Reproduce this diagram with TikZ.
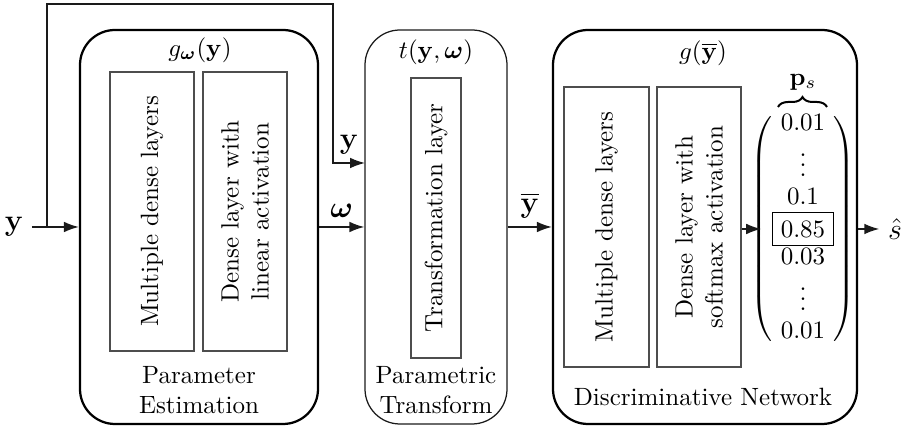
\documentclass[tikz,border=0pt]{standalone}
\usepackage{amsmath}
\usepackage{xcolor}
\definecolor{cLine}{HTML}{1A1A1A}
\definecolor{cInner}{HTML}{4D4D4D}
\usepackage{tikz}
\usetikzlibrary{positioning,arrows.meta,calc,decorations.pathreplacing}
\tikzset{
  blk-outer/.style={draw=black,line width=0.9pt,rounded corners=14pt,
    minimum height=157.6pt},
  blk-thin/.style={draw=cLine,line width=0.5pt,rounded corners=14pt,
    minimum height=157.6pt},
  blk-layer/.style={draw=cInner,line width=0.6pt,rotate=90,align=center,
    inner sep=2pt},
  blk-title/.style={inner sep=1pt},
  blk-caption/.style={align=center,inner sep=1pt},
  arrow/.style={-{Latex[length=2.1mm,width=1.5mm]},line width=0.6pt,draw=cLine},
  sig-label/.style={font=\large},
}

\begin{document}
\begin{tikzpicture}[x=0.4pt,y=0.4pt]
  \useasboundingbox (0,0) rectangle (902,426);
  % the three stages
  \node[blk-outer,minimum width=95.2pt]  (pe) at (199,199) {};
  \node[blk-thin,minimum width=56.8pt]   (pt) at (436,199) {};
  \node[blk-outer,minimum width=121.6pt] (dn) at (705,199) {};

  \node[blk-title] (pe-title) at (200,376) {$g_{\boldsymbol{\omega}}(\mathbf{y})$};
  \node[blk-title] (pt-title) at (436,374) {$t(\mathbf{y},\boldsymbol{\omega})$};
  \node[blk-title] (dn-title) at (703,373) {$g(\overline{\mathbf{y}})$};

  \node[blk-layer,minimum width=111.6pt,minimum height=33.6pt] (pe-a) at (152,214.5) {Multiple dense layers};
  \node[blk-layer,minimum width=111.6pt,minimum height=33.6pt] (pe-b) at (245,214.5) {Dense layer with\\linear activation};
  \node[blk-layer,minimum width=112pt,minimum height=20pt]     (pt-a) at (436,208) {Transformation layer};
  \node[blk-layer,minimum width=112pt,minimum height=34pt]     (dn-a) at (606.5,199) {Multiple dense layers};
  \node[blk-layer,minimum width=112pt,minimum height=33.6pt]   (dn-b) at (699,199) {Dense layer with\\softmax activation};

  \node[blk-caption] (pe-cap) at (199,36) {Parameter\\Estimation};
  \node[blk-caption] (pt-cap) at (436,36) {Parametric\\Transform};
  \node[blk-caption] (dn-cap) at (703,29) {Discriminative Network};

  % probability vector
  \node[inner sep=0pt] (vec) at (803,197) {$\arraycolsep=0pt\renewcommand{\arraystretch}{0.92}\left(\begin{array}{c}
      0.01\\ \vdots\\ 0.1\\ \fbox{$0.85$}\\ 0.03\\ \vdots\\ 0.01
    \end{array}\right)$};
  \draw[line width=0.8pt,decorate,decoration={brace,amplitude=4pt}]
    (778,319) -- (827,319);
  \node (ps) at (803,344) {$\mathbf{p}_s$};

  % signals
  \node[sig-label] (y-in) at (14,199) {$\mathbf{y}$};
  \node[sig-label] (s-hat) at (895,197) {$\hat{s}$};
  \coordinate (split) at (47,199);
  \coordinate (loop-r) at (333,422);
  \coordinate (pt-in) at (365,263);

  \draw[arrow] (y-in) -- (pe.west);
  \draw[arrow] (split) |- (loop-r) |- node[pos=0.75,above,sig-label] {$\mathbf{y}$} (pt-in);
  \draw[arrow] (pe.east) -- node[above,sig-label] {$\boldsymbol{\omega}$} (pt.west);
  \draw[arrow] (pt.east) -- node[above,sig-label] {$\overline{\mathbf{y}}$} (dn.west);
  \draw[arrow] (dn-b.south |- s-hat) -- ([xshift=4.5pt]vec.west |- s-hat);
  \draw[arrow] (dn.east |- s-hat) -- (s-hat);
\end{tikzpicture}
\end{document}
